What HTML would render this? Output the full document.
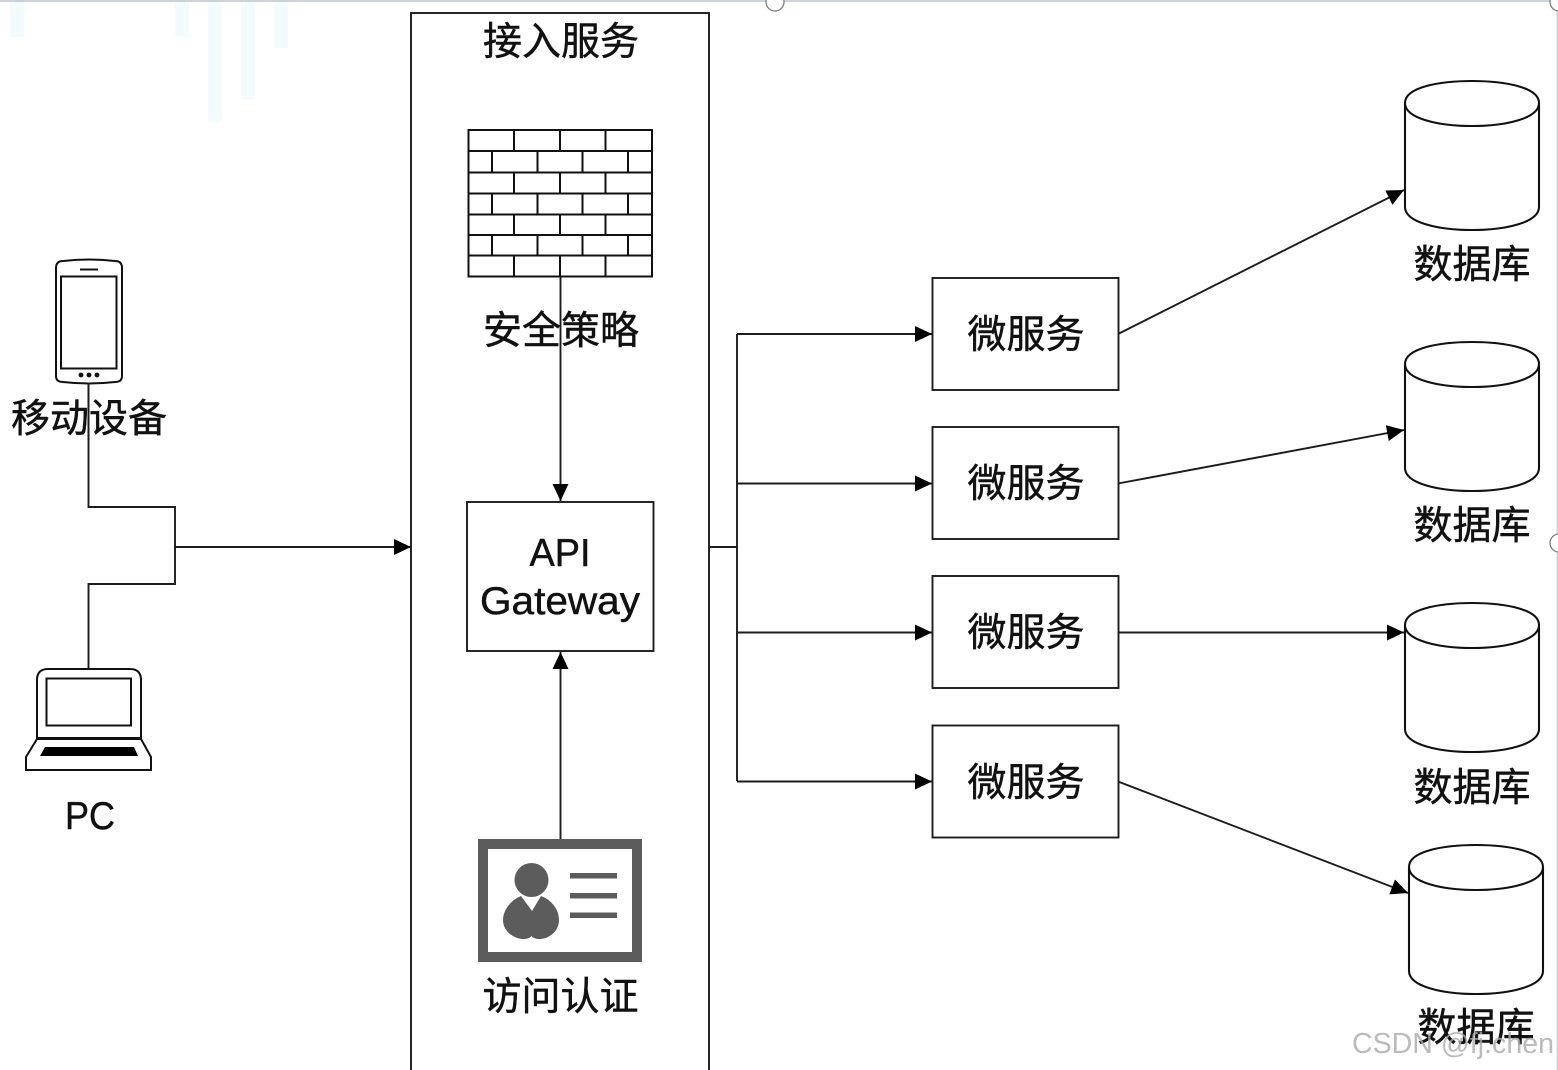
<!DOCTYPE html>
<html><head><meta charset="utf-8"><style>
html,body{margin:0;padding:0;background:#fff;width:1558px;height:1070px;overflow:hidden}
svg{display:block;filter:blur(.35px)}
text{font-family:"Liberation Sans","Noto Sans CJK SC",sans-serif;font-size:39px;fill:#111;stroke:#111;stroke-width:.45px;text-anchor:middle}
</style></head><body>
<svg width="1558" height="1070" viewBox="0 0 1558 1070" xmlns="http://www.w3.org/2000/svg">
<defs><marker id="a" markerUnits="userSpaceOnUse" markerWidth="18" markerHeight="16" refX="17" refY="8" orient="auto"><path d="M0 0L17 8L0 16Z" fill="#000"/></marker></defs>
<rect width="1558" height="1070" fill="#fff"/>
<g fill="#f3fbfe"><rect x="10" y="2" width="14" height="35"/><rect x="175" y="2" width="14" height="35"/><rect x="208" y="2" width="14" height="120"/><rect x="241" y="2" width="14" height="97"/><rect x="274" y="2" width="14" height="46"/></g>
<rect x="0" y="0" width="1558" height="2" fill="#cdd2d9"/>
<rect x="1556.500" y="0" width="1.500" height="1070" fill="#d0d4da"/>
<g fill="#fff" stroke="#777" stroke-width="1.2"><circle cx="775" cy="2" r="9"/><circle cx="1559" cy="2" r="9"/><circle cx="1559" cy="543" r="9"/></g>

<g fill="none" stroke="#1c1c1c" stroke-width="1.9">
<rect x="411" y="13" width="298" height="1070"/>
<!-- connectors -->
<path d="M88.500 383V507H175V584H88.500V669"/>
<path d="M175 547H411" marker-end="url(#a)"/>
<path d="M560.500 277V501" marker-end="url(#a)"/>
<path d="M560.500 840V652" marker-end="url(#a)"/>
<path d="M709 547H737"/>
<path d="M737 334V781"/>
<path d="M737 334H932" marker-end="url(#a)"/>
<path d="M737 483.500H932" marker-end="url(#a)"/>
<path d="M737 632.500H932" marker-end="url(#a)"/>
<path d="M737 781.500H932" marker-end="url(#a)"/>
<path d="M1118 334L1404 190" marker-end="url(#a)"/>
<path d="M1118 483.500L1404 430" marker-end="url(#a)"/>
<path d="M1118 632.500H1404" marker-end="url(#a)"/>
<path d="M1118 781.500L1408 893" marker-end="url(#a)"/>
<!-- boxes -->
<rect x="467" y="502" width="186.500" height="149" fill="#fff"/>
<rect x="932.500" y="278" width="186" height="112" fill="#fff"/>
<rect x="932.500" y="427" width="186" height="112" fill="#fff"/>
<rect x="932.500" y="576" width="186" height="112" fill="#fff"/>
<rect x="932.500" y="725.500" width="186" height="112" fill="#fff"/>
</g>

<!-- cylinders -->
<g fill="#fff" stroke="#111" stroke-width="2.1">
<path d="M1405 103C1405 87 1440 81 1472 81C1504 81 1539 87 1539 103V207C1539 223 1504 230 1472 230C1440 230 1405 223 1405 207Z M1405 103C1405 119 1440 126 1472 126C1504 126 1539 119 1539 103"/>
<path d="M1405 364C1405 348 1440 342 1472 342C1504 342 1539 348 1539 364V468C1539 484 1504 491 1472 491C1440 491 1405 484 1405 468Z M1405 364C1405 380 1440 387 1472 387C1504 387 1539 380 1539 364"/>
<path d="M1405 625C1405 609 1440 603 1472 603C1504 603 1539 609 1539 625V729C1539 745 1504 752 1472 752C1440 752 1405 745 1405 729Z M1405 625C1405 641 1440 648 1472 648C1504 648 1539 641 1539 625"/>
<path d="M1409 867C1409 851 1444 845 1476 845C1508 845 1543 851 1543 867V971C1543 987 1508 994 1476 994C1444 994 1409 987 1409 971Z M1409 867C1409 883 1444 890 1476 890C1508 890 1543 883 1543 867"/>
</g>

<!-- phone -->
<g fill="none" stroke="#111" stroke-width="2">
<path d="M56 268Q56 261 63 261Q89 258 115 261Q122 261 122 268V376Q122 382 115 382Q89 385 63 382Q56 382 56 376Z" fill="#fff"/>
<rect x="61" y="276.500" width="55.500" height="92"/>
<path d="M80 269.500H98"/>
</g>
<g fill="#111"><circle cx="81" cy="375" r="2.400"/><circle cx="89" cy="375" r="2.400"/><circle cx="97" cy="375" r="2.400"/></g>
<path d="M88.500 383V440" stroke="#1c1c1c" stroke-width="1.900" fill="none"/>

<!-- laptop -->
<g fill="#fff" stroke="#111" stroke-width="2">
<path d="M37 738V680Q37 669 48 669H130Q141 669 141 680V738Z"/>
<rect x="46.500" y="678.500" width="84.500" height="47"/>
<path d="M37 739H141L151 757V770H26V757Z"/>
</g>
<path d="M40 756L45 747H134L138 756Z" fill="#000"/>

<!-- firewall -->
<g fill="none" stroke="#111" stroke-width="2">
<rect x="468.500" y="130" width="183.500" height="146.500" fill="#fff"/>
<path d="M468.500 151H652M468.500 172.500H652M468.500 193.500H652M468.500 214.500H652M468.500 235H652M468.500 255.500H652"/>
<path d="M514 130V151M560 130V151M605.500 130V151M514 172.500V193.500M560 172.500V193.500M605.500 172.500V193.500M514 214.500V235M560 214.500V235M605.500 214.500V235M514 255.500V276.500M560 255.500V276.500M605.500 255.500V276.500"/>
<path d="M492 151V172.500M537.500 151V172.500M582.500 151V172.500M628 151V172.500M492 193.500V214.500M537.500 193.500V214.500M582.500 193.500V214.500M628 193.500V214.500M492 235V255.500M537.500 235V255.500M582.500 235V255.500M628 235V255.500"/>
</g>

<!-- id card -->
<rect x="483" y="844" width="154" height="113" fill="#fff" stroke="#5c5c5c" stroke-width="10"/>
<g fill="#5c5c5c">
<circle cx="531.500" cy="880" r="17"/>
<path d="M521 896L532 911L541 896C552 900 559 910 559 920C559 932 548 939 540 939C536 939 533 938 531.500 936C530 938 527 939 523 939C515 939 503 932 503 920C503 910 511 900 521 896Z"/>
<rect x="570" y="873" width="47" height="5.500"/><rect x="570" y="893" width="47" height="5.500"/><rect x="570" y="912.500" width="47" height="5.500"/>
</g>

<!-- labels -->
<text x="561" y="55">接入服务</text>
<text x="561" y="344">安全策略</text>
<text x="560.500" y="1010">访问认证</text>
<text x="89" y="432">移动设备</text>
<text x="90" y="829" textLength="50" lengthAdjust="spacingAndGlyphs">PC</text>
<text x="560" y="566" textLength="61" lengthAdjust="spacingAndGlyphs">API</text>
<text x="560" y="614" textLength="160" lengthAdjust="spacingAndGlyphs">Gateway</text>
<text x="1026" y="348">微服务</text>
<text x="1026" y="497">微服务</text>
<text x="1026" y="646">微服务</text>
<text x="1026" y="796">微服务</text>
<text x="1472" y="278">数据库</text>
<text x="1472" y="539">数据库</text>
<text x="1472" y="801">数据库</text>
<text x="1476" y="1041">数据库</text>
<text x="1453" y="1053" style="font-size:29px;fill:#aaa;fill-opacity:.8;stroke:none" textLength="202" lengthAdjust="spacingAndGlyphs">CSDN @fj.chen</text>
</svg>
</body></html>
